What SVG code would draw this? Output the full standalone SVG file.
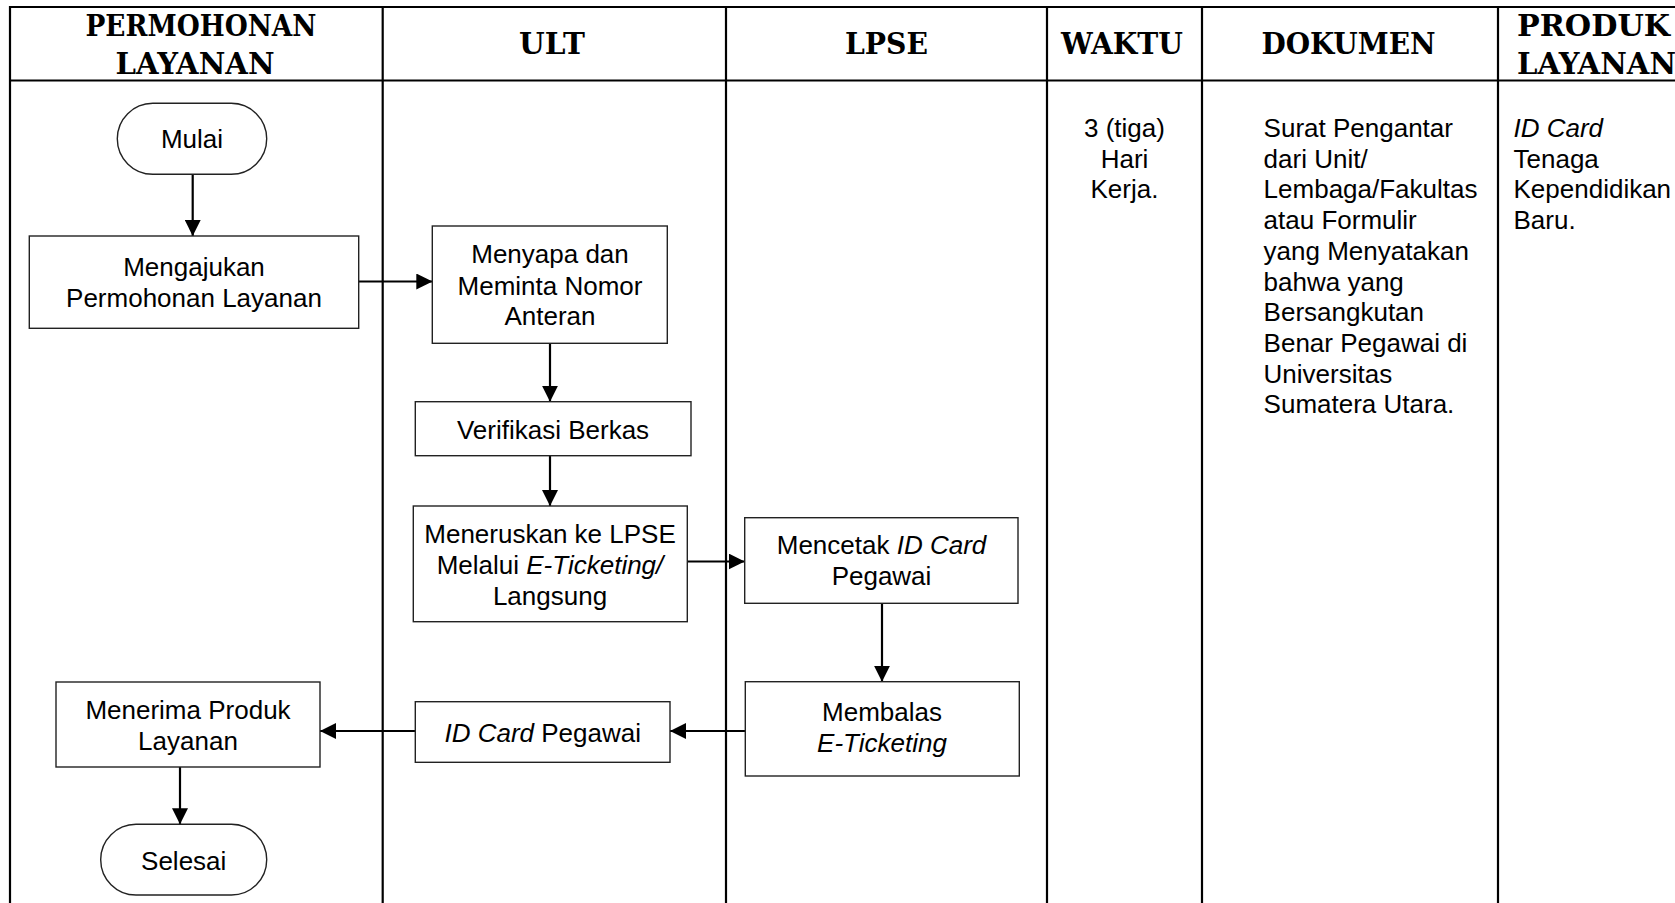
<svg xmlns="http://www.w3.org/2000/svg" width="1675" height="903" viewBox="0 0 1675 903">
<style>
.grid{stroke:#000;stroke-width:2.2;fill:none}
.hd{font-family:"DejaVu Serif","Liberation Serif",serif;font-weight:bold;font-size:29px;fill:#000}
.tx{font-family:"Liberation Sans",Arial,sans-serif;font-size:26px;fill:#000}
.c{text-anchor:middle}
.box{fill:#fff;stroke:#222;stroke-width:1.4}
.conn{stroke:#000;stroke-width:2.2;fill:none}
.i{font-style:italic}
</style>
<defs>
<marker id="ah" markerUnits="userSpaceOnUse" markerWidth="16" markerHeight="16" viewBox="0 0 16 16" refX="16" refY="8" orient="auto">
<path d="M0,0 L16,8 L0,16 Z" fill="#000"/>
</marker>
</defs>
<rect width="1675" height="903" fill="#fff"/>
<g id="table">
<line class="grid" x1="10" y1="7" x2="1675" y2="7"/>
<line class="grid" x1="10" y1="80.5" x2="1675" y2="80.5"/>
<line class="grid" x1="10" y1="6" x2="10" y2="903"/>
<line class="grid" x1="382.7" y1="7" x2="382.7" y2="903"/>
<line class="grid" x1="726" y1="7" x2="726" y2="903"/>
<line class="grid" x1="1047" y1="7" x2="1047" y2="903"/>
<line class="grid" x1="1202" y1="7" x2="1202" y2="903"/>
<line class="grid" x1="1498" y1="7" x2="1498" y2="903"/>
</g>
<g id="headers">
<text class="hd c" x="201" y="36" textLength="231" lengthAdjust="spacingAndGlyphs">PERMOHONAN</text>
<text class="hd c" x="195" y="74" textLength="159" lengthAdjust="spacingAndGlyphs">LAYANAN</text>
<text class="hd c" x="552" y="54" textLength="66" lengthAdjust="spacingAndGlyphs">ULT</text>
<text class="hd c" x="886.5" y="54" textLength="83" lengthAdjust="spacingAndGlyphs">LPSE</text>
<text class="hd c" x="1122" y="54" textLength="122" lengthAdjust="spacingAndGlyphs">WAKTU</text>
<text class="hd c" x="1348.5" y="54" textLength="174" lengthAdjust="spacingAndGlyphs">DOKUMEN</text>
<text class="hd" x="1517" y="36" textLength="153" lengthAdjust="spacingAndGlyphs">PRODUK</text>
<text class="hd" x="1517" y="74" textLength="159" lengthAdjust="spacingAndGlyphs">LAYANAN</text>
</g>
<g id="connectors">
<line class="conn" x1="192.7" y1="174.3" x2="192.7" y2="236" marker-end="url(#ah)"/>
<line class="conn" x1="358.7" y1="281.5" x2="432.3" y2="281.5" marker-end="url(#ah)"/>
<line class="conn" x1="550" y1="343.3" x2="550" y2="401.7" marker-end="url(#ah)"/>
<line class="conn" x1="550" y1="455.7" x2="550" y2="506" marker-end="url(#ah)"/>
<line class="conn" x1="687.3" y1="561.5" x2="744.7" y2="561.5" marker-end="url(#ah)"/>
<line class="conn" x1="882" y1="603.3" x2="882" y2="681.7" marker-end="url(#ah)"/>
<line class="conn" x1="745.3" y1="731" x2="670" y2="731" marker-end="url(#ah)"/>
<line class="conn" x1="415.3" y1="731" x2="320" y2="731" marker-end="url(#ah)"/>
<line class="conn" x1="180" y1="767" x2="180" y2="824.3" marker-end="url(#ah)"/>
</g>
<g id="mulai">
<rect class="box" x="117.3" y="103.3" width="149.4" height="71" rx="35.5" ry="35.5"/>
<text class="tx c" x="192" y="148">Mulai</text>
</g>
<g id="mengajukan">
<rect class="box" x="29.3" y="236" width="329.4" height="92.3"/>
<text class="tx c" x="194" y="276">Mengajukan</text>
<text class="tx c" x="194" y="307">Permohonan Layanan</text>
</g>
<g id="menyapa">
<rect class="box" x="432.3" y="226" width="235" height="117.3"/>
<text class="tx c" x="550" y="263">Menyapa dan</text>
<text class="tx c" x="550" y="294.5">Meminta Nomor</text>
<text class="tx c" x="550" y="325">Anteran</text>
</g>
<g id="verifikasi">
<rect class="box" x="415.3" y="401.7" width="275.7" height="54"/>
<text class="tx c" x="553" y="439">Verifikasi Berkas</text>
</g>
<g id="meneruskan">
<rect class="box" x="413.3" y="506" width="274" height="115.7"/>
<text class="tx c" x="550" y="543">Meneruskan ke LPSE</text>
<text class="tx c" x="550" y="573.5">Melalui <tspan class="i">E-Ticketing/</tspan></text>
<text class="tx c" x="550" y="605">Langsung</text>
</g>
<g id="mencetak">
<rect class="box" x="744.7" y="517.7" width="273.3" height="85.6"/>
<text class="tx c" x="881.5" y="554">Mencetak <tspan class="i">ID Card</tspan></text>
<text class="tx c" x="881.5" y="585">Pegawai</text>
</g>
<g id="membalas">
<rect class="box" x="745.3" y="681.7" width="274" height="94.3"/>
<text class="tx c" x="882" y="721">Membalas</text>
<text class="tx c i" x="882" y="752">E-Ticketing</text>
</g>
<g id="idcard">
<rect class="box" x="415.3" y="701.7" width="254.7" height="60.6"/>
<text class="tx c" x="542.7" y="741.5"><tspan class="i">ID Card</tspan> Pegawai</text>
</g>
<g id="menerima">
<rect class="box" x="56" y="682" width="264" height="85"/>
<text class="tx c" x="188" y="719">Menerima Produk</text>
<text class="tx c" x="188" y="750">Layanan</text>
</g>
<g id="selesai">
<rect class="box" x="100.7" y="824.3" width="166" height="70.7" rx="35.3" ry="35.3"/>
<text class="tx c" x="183.7" y="870">Selesai</text>
</g>
<g id="waktu">
<text class="tx c" x="1124.5" y="137">3 (tiga)</text>
<text class="tx c" x="1124.5" y="167.7">Hari</text>
<text class="tx c" x="1124.5" y="198.4">Kerja.</text>
</g>
<g id="dokumen">
<text class="tx" x="1263.6" y="137">Surat Pengantar</text>
<text class="tx" x="1263.6" y="167.7">dari Unit/</text>
<text class="tx" x="1263.6" y="198.4">Lembaga/Fakultas</text>
<text class="tx" x="1263.6" y="229.1">atau Formulir</text>
<text class="tx" x="1263.6" y="259.8">yang Menyatakan</text>
<text class="tx" x="1263.6" y="290.5">bahwa yang</text>
<text class="tx" x="1263.6" y="321.2">Bersangkutan</text>
<text class="tx" x="1263.6" y="351.9">Benar Pegawai di</text>
<text class="tx" x="1263.6" y="382.6">Universitas</text>
<text class="tx" x="1263.6" y="413.3">Sumatera Utara.</text>
</g>
<g id="produk">
<text class="tx i" x="1513.5" y="137">ID Card</text>
<text class="tx" x="1513.5" y="167.7">Tenaga</text>
<text class="tx" x="1513.5" y="198.4">Kependidikan</text>
<text class="tx" x="1513.5" y="229.1">Baru.</text>
</g>
</svg>
